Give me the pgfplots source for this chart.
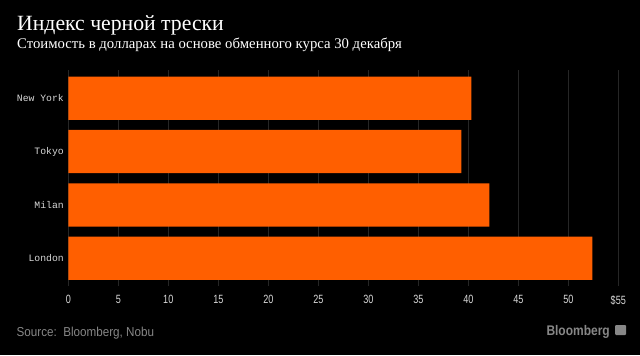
\documentclass[border=0pt]{standalone}
\usepackage{pgfplots}
\pgfplotsset{compat=1.18}
\usepackage{fontspec}
\setmainfont{Liberation Serif}
\newfontfamily\monof{Liberation Mono}
\newfontfamily\condf[FakeStretch=0.76]{Liberation Sans}
\newfontfamily\srcf[FakeStretch=0.9]{Liberation Sans}
\newfontfamily\logof[FakeStretch=0.86]{Liberation Sans}
\definecolor{bbor}{RGB}{255,95,0}
\definecolor{gridc}{RGB}{38,38,38}
\definecolor{ticktxt}{RGB}{215,215,215}
\definecolor{srctxt}{RGB}{135,135,135}
\begin{document}
\begin{tikzpicture}[x=1bp,y=1bp]
\fill[black] (0,0) rectangle (640,355);
\node[anchor=base west, text=white, font=\fontsize{21.8}{25}\selectfont, inner sep=0] at (17,325) {Индекс черной трески};
\node[anchor=base west, text=white, font=\fontsize{14.8}{17}\selectfont, inner sep=0] at (17,307) {Стоимость в долларах на основе обменного курса 30 декабря};
\begin{axis}[
  at={(68.3bp,69bp)}, anchor=south west, scale only axis,
  width=550bp, height=216bp,
  xbar, bar width=43.3bp,
  xmin=0, xmax=55, ymin=-0.52, ymax=3.53,
  axis line style={draw=none},
  major tick length=0,
  xmajorgrids, grid style={gridc, line width=0.8bp},
  xtick={0,5,...,55},
  xticklabels={0,5,10,15,20,25,30,35,40,45,50,\$55},
  xticklabel style={font=\condf\fontsize{12}{14}\selectfont, text=ticktxt, yshift=-6bp},
  ytick={0,1,2,3},
  yticklabels={London,Milan,Tokyo,New York},
  yticklabel style={font=\monof\fontsize{9.8}{11}\selectfont, text=ticktxt, xshift=-1bp},
  clip=false,
]
\draw[gridc, line width=0.8bp] (axis cs:0,-0.52) -- (axis cs:0,3.53);
\addplot[fill=bbor, draw=none] coordinates {(52.4,0) (42.1,1) (39.3,2) (40.3,3)};
\end{axis}
\node[anchor=base west, text=srctxt, font=\srcf\fontsize{13}{15}\selectfont, inner sep=0] at (16.5,18.5) {Source:\ \ Bloomberg, Nobu};
\node[anchor=base east, text=srctxt, font=\logof\bfseries\fontsize{14}{16}\selectfont, inner sep=0] at (610,20) {Bloomberg};
\fill[srctxt, rounded corners=1bp] (615,20) rectangle (626,30);
\end{tikzpicture}
\end{document}
